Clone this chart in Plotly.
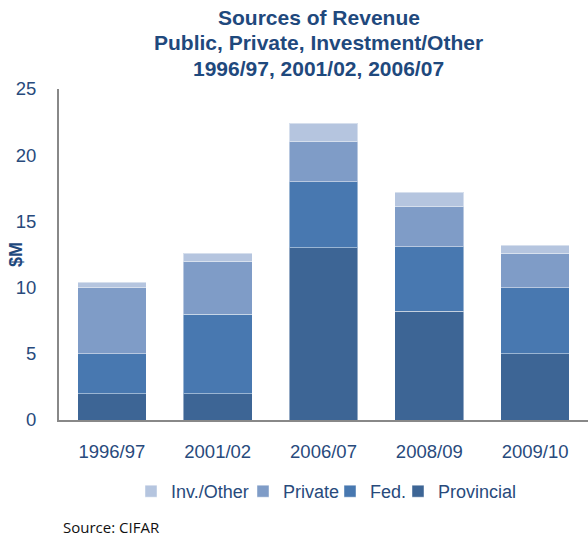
import plotly.graph_objects as go

# Revenue by source, $M
years = ["1996/97", "2001/02", "2006/07", "2008/09", "2009/10"]
provincial = [2.0, 2.0, 13.0, 8.2, 5.0]
federal = [3.0, 6.0, 5.0, 4.9, 5.0]
private = [5.0, 4.0, 3.0, 3.0, 2.6]
inv_other = [0.4, 0.6, 1.4, 1.1, 0.6]

title_lines = ["Sources of Revenue", "Public, Private, Investment/Other", "1996/97, 2001/02, 2006/07"]

# (name, values, colour, legend item width)
series = [
    ("Provincial", provincial, "#3D6595", None),
    ("Fed.", federal, "#4878B0", 23),
    ("Private", private, "#7F9CC7", 42),
    ("Inv./Other", inv_other, "#B5C5DF", 67),
]

text_blue = "#284A7C"
title_blue = "#1F497D"
W, H = 588, 537
L, T, B = 59, 89, 117
plot_w = W - L
plot_h = H - T - B


def px_x(x):
    return (x - L) / plot_w


def px_y(y):
    return (H - B - y) / plot_h


fig = go.Figure()
for name, vals, color, lw in series:
    fig.add_trace(go.Bar(
        name=name, x=years, y=vals,
        marker=dict(color=color, line=dict(color="rgba(255,255,255,0.45)", width=1)),
        legendwidth=lw,
    ))

fig.update_layout(
    width=W, height=H,
    barmode="stack", bargap=0.35,
    plot_bgcolor="white", paper_bgcolor="white",
    margin=dict(l=L, r=0, t=T, b=B),
    font=dict(family="Liberation Sans, Arial, sans-serif", color=text_blue, size=18),
    legend=dict(
        orientation="h", traceorder="reversed",
        x=px_x(131), xanchor="left",
        y=px_y(473), yanchor="top",
        font=dict(size=18, color=text_blue),
        itemwidth=30,
    ),
    showlegend=True,
)

fig.update_yaxes(
    range=[0, 25], dtick=5, showgrid=False,
    showline=True, linecolor="#888888", linewidth=2,
    ticks="", ticklabelstandoff=17,
    tickfont=dict(size=18.5, color=text_blue),
    zeroline=False,
)
fig.update_xaxes(
    showline=True, linecolor="#888888", linewidth=2,
    ticks="", ticklabelstandoff=14,
    tickfont=dict(size=18.5, color=text_blue),
)

# chart title, one annotation per line
for text, yc in zip(title_lines, [18, 42.5, 68]):
    fig.add_annotation(
        text=f"<b>{text}</b>", xref="paper", yref="paper",
        x=px_x(318.5), y=px_y(yc), xanchor="center", yanchor="middle",
        showarrow=False,
        font=dict(size=21, color=title_blue, family="Liberation Sans, Arial, sans-serif"),
    )

# y-axis label
fig.add_annotation(
    text="<b>$M</b>", xref="paper", yref="paper",
    x=px_x(16), y=px_y(255),
    xanchor="center", yanchor="middle", textangle=-90, showarrow=False,
    font=dict(size=18, color=title_blue),
)

fig.add_annotation(
    text="Source: CIFAR", xref="paper", yref="paper",
    x=px_x(61), y=px_y(527),
    xanchor="left", yanchor="middle", showarrow=False,
    font=dict(size=15, color="#111111", family="Open Sans, sans-serif"),
)

fig.write_html("out.html")
